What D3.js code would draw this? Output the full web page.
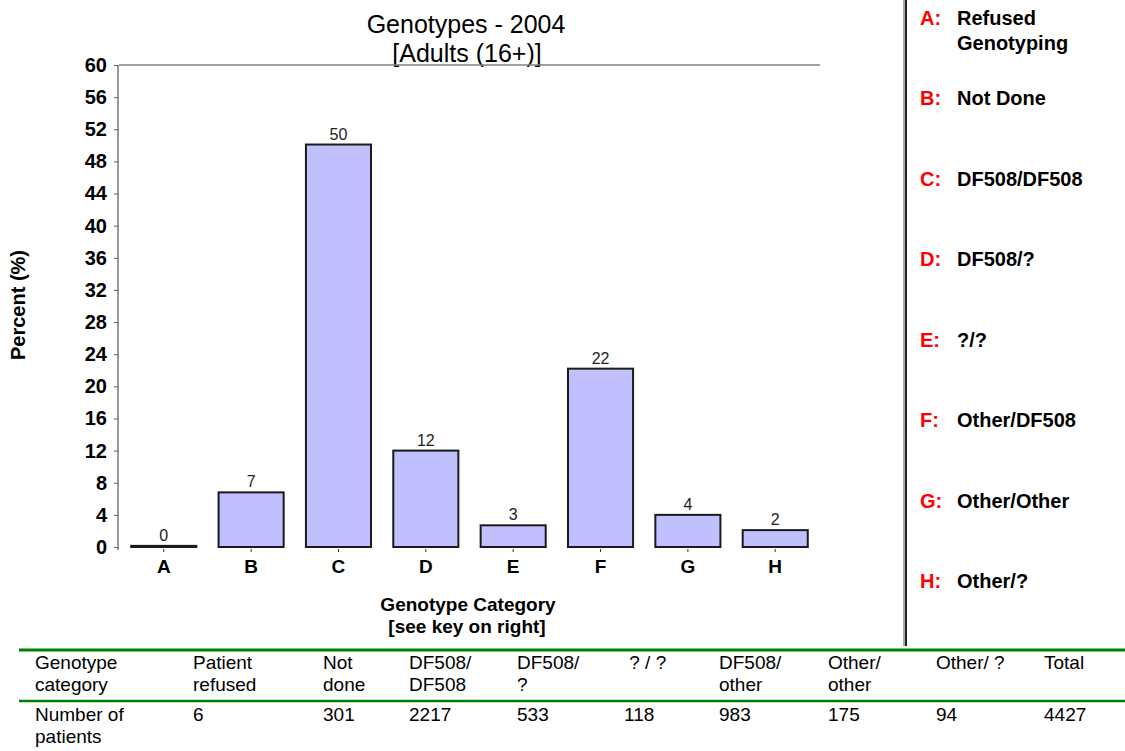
<!DOCTYPE html>
<html>
<head>
<meta charset="utf-8">
<script src="https://cdn.jsdelivr.net/npm/d3@7"></script>
<style>
  body { margin: 0; background: #fff; }
  svg { display: block; font-family: "Liberation Sans", Arial, sans-serif; }
</style>
</head>
<body>
<svg id="chart" width="1125" height="751"></svg>
<script>
// data
var categories = ["A", "B", "C", "D", "E", "F", "G", "H"];
var percents = [0.14, 6.8, 50.1, 12.0, 2.7, 22.2, 4.0, 2.1];
var yTicks = [0, 4, 8, 12, 16, 20, 24, 28, 32, 36, 40, 44, 48, 52, 56, 60];
var keyLabels = [["Refused", "Genotyping"], ["Not Done"], ["DF508/DF508"], ["DF508/?"],
                 ["?/?"], ["Other/DF508"], ["Other/Other"], ["Other/?"]];
var headerCells = [["Genotype", "category"], ["Patient", "refused"], ["Not", "done"], ["DF508/", "DF508"],
                   ["DF508/", "?"], [" ? / ?"], ["DF508/", "other"], ["Other/", "other"], ["Other/ ?"], ["Total"]];
var countCells = [["Number of", "patients"], ["6"], ["301"], ["2217"], ["533"], ["118"], ["983"], ["175"], ["94"], ["4427"]];

// layout
var colX = [35, 193, 323, 409, 517, 624, 719, 828, 936, 1044];

var svg = d3.select("#chart");

var x = d3.scaleBand()
    .domain(categories)
    .range([119, 820])
    .paddingInner(0.255)
    .paddingOuter(0.14);

var y = d3.scaleLinear()
    .domain([0, 60])
    .range([547, 65]);

// title
svg.append("text").attr("x", 466).attr("y", 33).attr("text-anchor", "middle")
    .style("font-size", "25px").text("Genotypes - 2004");
svg.append("text").attr("x", 467).attr("y", 62).attr("text-anchor", "middle")
    .style("font-size", "25px").text("[Adults (16+)]");

// frame lines
svg.append("line").attr("x1", 119).attr("x2", 820).attr("y1", y(60)).attr("y2", y(60))
    .attr("stroke", "#808080").attr("stroke-width", 1.5);
svg.append("line").attr("x1", 118).attr("x2", 118).attr("y1", y(60)).attr("y2", 550)
    .attr("stroke", "#999").attr("stroke-width", 2);

// y axis
var yAxis = svg.append("g")
    .attr("transform", "translate(118,0)")
    .call(d3.axisLeft(y).tickValues(yTicks).tickSize(4).tickPadding(7));
yAxis.select(".domain").remove();
yAxis.selectAll(".tick line").attr("stroke", "#5555aa");
yAxis.selectAll(".tick text")
    .attr("fill", "#000")
    .style("font-size", "20px")
    .style("font-weight", "bold")
    .style("font-family", "'Liberation Sans', Arial, sans-serif");

svg.append("text")
    .attr("transform", "translate(25,305) rotate(-90)")
    .attr("text-anchor", "middle")
    .style("font-size", "20px").style("font-weight", "bold")
    .text("Percent (%)");

// bars
svg.selectAll("rect.bar")
    .data(percents)
    .enter().append("rect")
    .attr("class", "bar")
    .attr("x", function (d, i) { return x(categories[i]); })
    .attr("y", function (d) { return y(d); })
    .attr("width", x.bandwidth())
    .attr("height", function (d) { return y(0) - y(d); })
    .attr("fill", "#c0c0ff")
    .attr("stroke", "#1a1a1a")
    .attr("stroke-width", 2);

var fmt = d3.format(".0f");
svg.selectAll("text.val")
    .data(percents)
    .enter().append("text")
    .attr("class", "val")
    .attr("x", function (d, i) { return x(categories[i]) + x.bandwidth() / 2; })
    .attr("y", function (d) { return y(d) - 5; })
    .attr("text-anchor", "middle")
    .attr("fill", "#222")
    .style("font-size", "16px")
    .text(function (d) { return fmt(d); });

// x axis
var xAxis = svg.append("g")
    .attr("transform", "translate(0,549)")
    .call(d3.axisBottom(x).tickSize(3).tickPadding(8));
xAxis.select(".domain").remove();
xAxis.selectAll(".tick line").attr("stroke", "#333");
xAxis.selectAll(".tick text")
    .attr("fill", "#000")
    .style("font-size", "19px")
    .style("font-weight", "bold")
    .style("font-family", "'Liberation Sans', Arial, sans-serif");

svg.append("text").attr("x", 468).attr("y", 611).attr("text-anchor", "middle")
    .style("font-size", "19px").style("font-weight", "bold").text("Genotype Category");
svg.append("text").attr("x", 467).attr("y", 633).attr("text-anchor", "middle")
    .style("font-size", "19px").style("font-weight", "bold").text("[see key on right]");

// key on the right
svg.append("line").attr("x1", 904).attr("x2", 904).attr("y1", 0).attr("y2", 646)
    .attr("stroke", "#aaa").attr("stroke-width", 2);
svg.append("line").attr("x1", 906).attr("x2", 906).attr("y1", 0).attr("y2", 646)
    .attr("stroke", "#222").attr("stroke-width", 2);

var ky = d3.scalePoint().domain(categories).range([25, 588]);
var key = svg.selectAll("g.key")
    .data(categories)
    .enter().append("g")
    .attr("class", "key")
    .attr("transform", function (d) { return "translate(0," + ky(d) + ")"; });
key.append("text")
    .attr("x", 920)
    .attr("fill", "#ff0000")
    .style("font-size", "20px").style("font-weight", "bold")
    .text(function (d) { return d + ":"; });
key.each(function (d, i) {
    var g = d3.select(this);
    keyLabels[i].forEach(function (line, j) {
        g.append("text")
            .attr("x", 957)
            .attr("y", j * 25)
            .attr("fill", "#000")
            .style("font-size", "20px").style("font-weight", "bold")
            .text(line);
    });
});

// table
svg.append("line").attr("x1", 19).attr("x2", 1125).attr("y1", 650).attr("y2", 650)
    .attr("stroke", "#008000").attr("stroke-width", 3);
svg.append("line").attr("x1", 19).attr("x2", 1125).attr("y1", 701).attr("y2", 701)
    .attr("stroke", "#008000").attr("stroke-width", 2.5);

function drawRow(cells, y0) {
    cells.forEach(function (cell, i) {
        cell.forEach(function (line, j) {
            svg.append("text")
                .attr("x", colX[i])
                .attr("y", y0 + j * 22)
                .attr("fill", "#000")
                .style("font-size", "19px")
                .style("white-space", "pre")
                .text(line);
        });
    });
}
drawRow(headerCells, 669);
drawRow(countCells, 721);
</script>
</body>
</html>
